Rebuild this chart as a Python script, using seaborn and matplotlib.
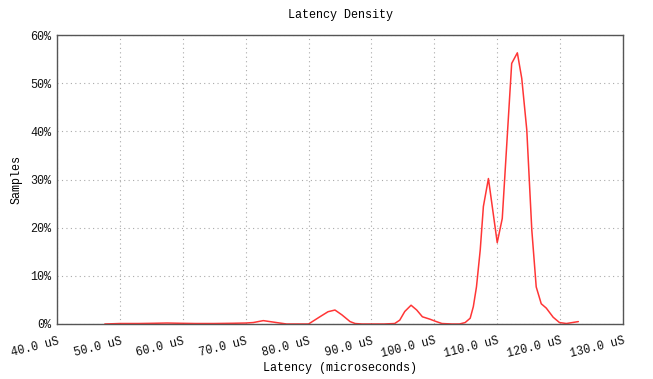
import matplotlib
matplotlib.use("Agg")
import matplotlib.pyplot as plt
import seaborn as sns
import pandas as pd
from matplotlib.ticker import FixedLocator, FuncFormatter

# Latency sample density (percent of samples at each latency, in microseconds)
latency_us = [47.6, 50.0, 53.0, 55.5, 57.5, 59.5, 62.0, 65.0, 68.0, 70.0,
              71.2, 72.8, 74.9, 76.5, 78.0, 80.0, 81.8, 83.1, 84.2, 85.3,
              86.6, 87.4, 88.5, 90.0, 92.0, 93.7, 94.5, 95.3, 96.3, 97.2,
              98.1, 99.3, 100.1, 101.2, 102.8, 104.0, 104.9, 105.7, 106.2, 106.7,
              107.3, 107.8, 108.6, 110.0, 110.8, 112.3, 113.2, 113.9, 114.7, 115.5,
              116.2, 117.0, 117.8, 118.9, 119.9, 121.0, 122.9]
samples_pct = [0.0, 0.1, 0.1, 0.15, 0.2, 0.15, 0.1, 0.1, 0.15, 0.2,
               0.3, 0.7, 0.3, 0.0, 0.0, 0.0, 1.5, 2.55, 2.9, 1.9,
               0.5, 0.1, 0.0, 0.0, 0.0, 0.1, 0.8, 2.6, 3.9, 2.9,
               1.5, 1.0, 0.6, 0.1, 0.0, 0.0, 0.3, 1.2, 3.6, 7.7,
               15.4, 24.4, 30.2, 16.9, 21.9, 54.1, 56.3, 51.0, 40.3, 19.5,
               7.7, 4.2, 3.3, 1.4, 0.3, 0.1, 0.5]

x_ticks = [40, 50, 60, 70, 80, 90, 100, 110, 120, 130]
y_ticks = [0, 10, 20, 30, 40, 50, 60]

df = pd.DataFrame({"latency": latency_us, "samples": samples_pct})

sns.set_theme(style="white")
plt.rcParams["font.family"] = ["Liberation Mono", "DejaVu Sans Mono"]

fig = plt.figure(figsize=(6.53, 3.79), dpi=100)
ax = fig.add_axes([57 / 653, 1 - 324 / 379, (623 - 57) / 653, (324 - 35) / 379])

sns.lineplot(data=df, x="latency", y="samples", ax=ax, color="#ff2020",
             linewidth=1.1, alpha=0.9)

ax.set_xlim(40, 130)
ax.set_ylim(0, 60)
ax.xaxis.set_major_locator(FixedLocator(x_ticks))
ax.yaxis.set_major_locator(FixedLocator(y_ticks))
ax.xaxis.set_major_formatter(FuncFormatter(lambda v, p: f"{v:.1f} uS"))
ax.yaxis.set_major_formatter(FuncFormatter(lambda v, p: f"{v:.0f}%"))

ax.grid(True, color="#aaaaaa", linestyle=(0, (1, 3)), linewidth=0.8)
for s in ax.spines.values():
    s.set_color("#555555")
    s.set_linewidth(1.0)
ax.tick_params(axis="x", direction="out", length=5, width=1, color="#333333",
               labelsize=8.5, labelcolor="#111111", pad=3)
ax.tick_params(axis="y", direction="out", length=0, labelsize=8.5,
               labelcolor="#111111", pad=4)
for lbl in ax.get_xticklabels():
    lbl.set_rotation(14)
    lbl.set_ha("right")
    lbl.set_rotation_mode("anchor")

ax.set_xlabel("")
ax.set_ylabel("Samples", fontsize=8.5, color="#000000", labelpad=6)
ax.set_title("Latency Density", fontsize=8.5, color="#000000", pad=12)
# x-axis label placed in figure coordinates so it sits just above the bottom edge
fig.text((57 + 623) / 2 / 653, 1 - 368 / 379, "Latency (microseconds)",
         fontsize=8.5, color="#000000", ha="center", va="center")

fig.savefig("out.png", dpi=100)
